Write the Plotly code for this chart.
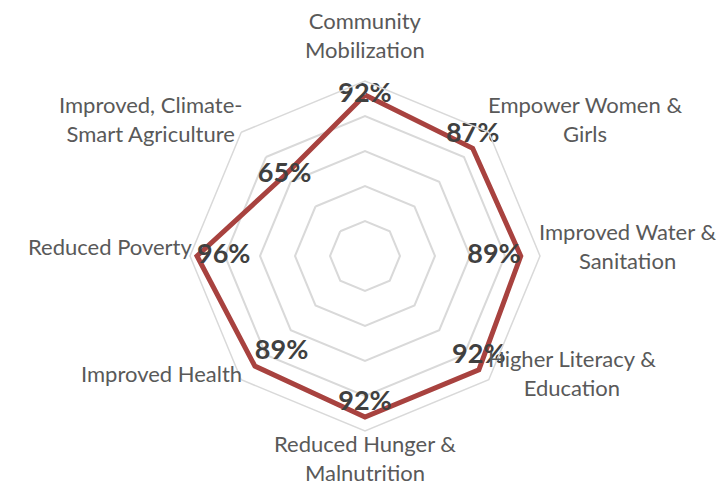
import math
import plotly.graph_objects as go

categories = [
    "Community Mobilization",
    "Empower Women & Girls",
    "Improved Water & Sanitation",
    "Higher Literacy & Education",
    "Reduced Hunger & Malnutrition",
    "Improved Health",
    "Reduced Poverty",
    "Improved, Climate-Smart Agriculture",
]
category_labels = [
    "Community<br>Mobilization",
    "Empower Women &<br>Girls",
    "Improved Water &<br>Sanitation",
    "Higher Literacy &<br>Education",
    "Reduced Hunger &<br>Malnutrition",
    "Improved Health",
    "Reduced Poverty",
    "Improved, Climate-<br>Smart Agriculture",
]
values = [0.92, 0.87, 0.89, 0.92, 0.92, 0.89, 0.96, 0.65]
label_positions = ["middle center", "top center", "middle left", "top center",
                   "top center", "top right", "middle right", "middle center"]
ring_ticks = [0.2, 0.4, 0.6, 0.8, 1.0]

theta = categories + [categories[0]]
r = values + [values[0]]
texts = [f"{round(v*100)}%" for v in values]

fig = go.Figure()
fig.add_trace(go.Scatterpolar(
    r=r, theta=theta, mode="lines",
    line=dict(color="#a8423f", width=5),
    hoverinfo="skip", showlegend=False,
))
fig.add_trace(go.Scatterpolar(
    r=values, theta=categories, mode="text",
    text=texts, textposition=label_positions,
    textfont=dict(family="Lato", size=27, color="#404040", weight="bold"),
    hoverinfo="skip", showlegend=False, cliponaxis=False,
))

W, H = 724, 485
cx, cy, R = 357, 248, 175

# category labels placed just outside each outer vertex (layout text, not data marks)
annotations = []
n = len(categories)
for i, lab in enumerate(category_labels):
    ang = 2 * math.pi * i / n
    sn, cs = math.sin(ang), math.cos(ang)
    px = cx + R * 0.98 * sn
    py = cy - R * 1.03 * cs
    if abs(sn) < 1e-6:
        xanchor = "center"
        if cs > 0:
            yanchor, ysh = "bottom", 11
        else:
            yanchor, ysh = "top", 8
    else:
        xanchor = "left" if sn > 0 else "right"
        yanchor, ysh = "middle", 10
    annotations.append(dict(
        x=px / W, y=1 - py / H, xref="paper", yref="paper", yshift=ysh,
        text=lab, showarrow=False, xanchor=xanchor, yanchor=yanchor, align="center",
        font=dict(family="Lato", size=22, color="#595959"),
    ))

fig.update_layout(
    width=W, height=H,
    margin=dict(l=0, r=0, t=0, b=0),
    paper_bgcolor="white", plot_bgcolor="white",
    annotations=annotations,
    polar=dict(
        domain=dict(x=[(cx - R) / W, (cx + R) / W], y=[(H - cy - R) / H, (H - cy + R) / H]),
        bgcolor="white",
        gridshape="linear",
        radialaxis=dict(range=[0, 1], tickvals=ring_ticks, showticklabels=False, ticks="",
                        showline=False, gridcolor="#d9d9d9", gridwidth=1.5),
        angularaxis=dict(direction="clockwise", rotation=90, showgrid=False, ticks="",
                         showticklabels=False,
                         linecolor="#d9d9d9", linewidth=1.5),
    ),
)
fig.write_html("out.html")
